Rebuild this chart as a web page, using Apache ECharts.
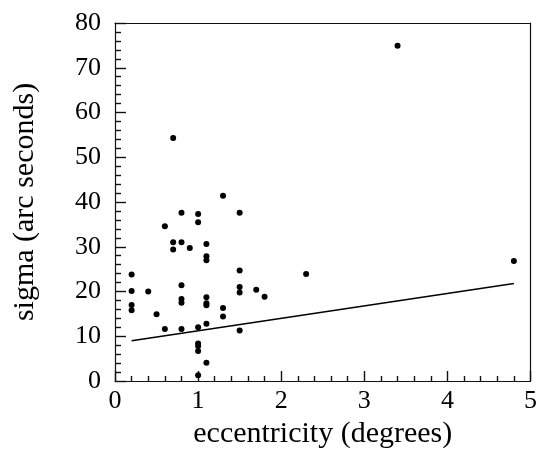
<!DOCTYPE html>
<html>
<head>
<meta charset="utf-8">
<script src="https://cdn.jsdelivr.net/npm/echarts@6/dist/echarts.min.js"></script>
<style>html,body{margin:0;padding:0;background:#fff}#c{width:540px;height:454px}</style>
</head>
<body>
<div id="c"></div>
<script>
// eccentricity (degrees)
const ecc = [0.2,0.2,0.2,0.2,0.4,0.5,0.6,0.6,0.7,0.7,0.7,0.8,0.8,0.8,0.8,0.8,0.8,0.9,
  1.0,1.0,1.0,1.0,1.0,1.0,1.0,1.1,1.1,1.1,1.1,1.1,1.1,1.1,1.1,1.3,1.3,1.3,
  1.5,1.5,1.5,1.5,1.5,1.7,1.8,2.3,3.4,4.8];
// sigma (arc seconds)
const sigma = [23.8,20.1,17.0,15.8,20.0,14.9,34.6,11.6,54.3,31.0,29.4,37.6,31.0,21.4,18.3,17.5,11.6,29.7,
  37.3,35.5,12.0,8.4,7.8,6.7,1.3,30.6,27.9,27.0,18.7,17.4,16.9,12.8,4.1,41.4,16.3,14.4,
  37.6,24.7,21.0,19.8,11.3,20.4,18.8,23.9,74.9,26.8];
// fitted line end points
const fitX = [0.2, 4.8];
const fitY = [9.0, 21.8];
const xTicks = [0,1,2,3,4,5];
const yTicks = [0,10,20,30,40,50,60,70,80];

const font = 'Liberation Serif, Times New Roman, serif';
const lineCol = '#111';
const borderAxis = {
  type:'value', axisLine:{show:true, onZero:false, lineStyle:{color:lineCol, width:1.2}},
  axisTick:{show:false}, minorTick:{show:false}, axisLabel:{show:false}, splitLine:{show:false}
};
const chart = echarts.init(document.getElementById('c'), null, {renderer:'canvas'});
chart.setOption({
  animation:false,
  grid:{left:115, right:5, top:23, bottom:73, show:false},
  xAxis:[{
    type:'value', position:'bottom', min:xTicks[0], max:xTicks[xTicks.length-1], interval:1,
    name:'eccentricity (degrees)', nameLocation:'middle', nameGap:37,
    nameTextStyle:{fontFamily:font, fontSize:30, color:'#000'},
    axisLine:{show:true, onZero:false, lineStyle:{color:lineCol, width:1.2}},
    axisTick:{show:true, inside:true, length:10, lineStyle:{color:lineCol, width:1.4}},
    minorTick:{show:true, splitNumber:5, length:5, lineStyle:{color:lineCol, width:1.4}},
    axisLabel:{show:true, fontFamily:font, fontSize:26, color:'#000', margin:7},
    splitLine:{show:false}, minorSplitLine:{show:false}
  }, Object.assign({position:'top', min:0, max:5}, borderAxis)],
  yAxis:[{
    type:'value', position:'left', min:yTicks[0], max:yTicks[yTicks.length-1], interval:10,
    name:'sigma (arc seconds)', nameLocation:'middle', nameGap:75,
    nameTextStyle:{fontFamily:font, fontSize:30, color:'#000'},
    axisLine:{show:true, onZero:false, lineStyle:{color:lineCol, width:1.2}},
    axisTick:{show:true, inside:true, length:11, lineStyle:{color:lineCol, width:1.4}},
    minorTick:{show:true, splitNumber:5, length:6, lineStyle:{color:lineCol, width:1.4}},
    axisLabel:{show:true, fontFamily:font, fontSize:26, color:'#000', margin:14},
    splitLine:{show:false}, minorSplitLine:{show:false}
  }, Object.assign({position:'right', min:0, max:80}, borderAxis)],
  series:[
    {type:'scatter', xAxisIndex:0, yAxisIndex:0, data:ecc.map((x,i)=>[x,sigma[i]]), symbol:'circle', symbolSize:6,
     itemStyle:{color:'#000', opacity:1}, z:5},
    {type:'line', xAxisIndex:0, yAxisIndex:0, data:fitX.map((x,i)=>[x,fitY[i]]), symbol:'none',
     lineStyle:{color:'#000', width:1.5}, z:4}
  ]
});
</script>
</body>
</html>
